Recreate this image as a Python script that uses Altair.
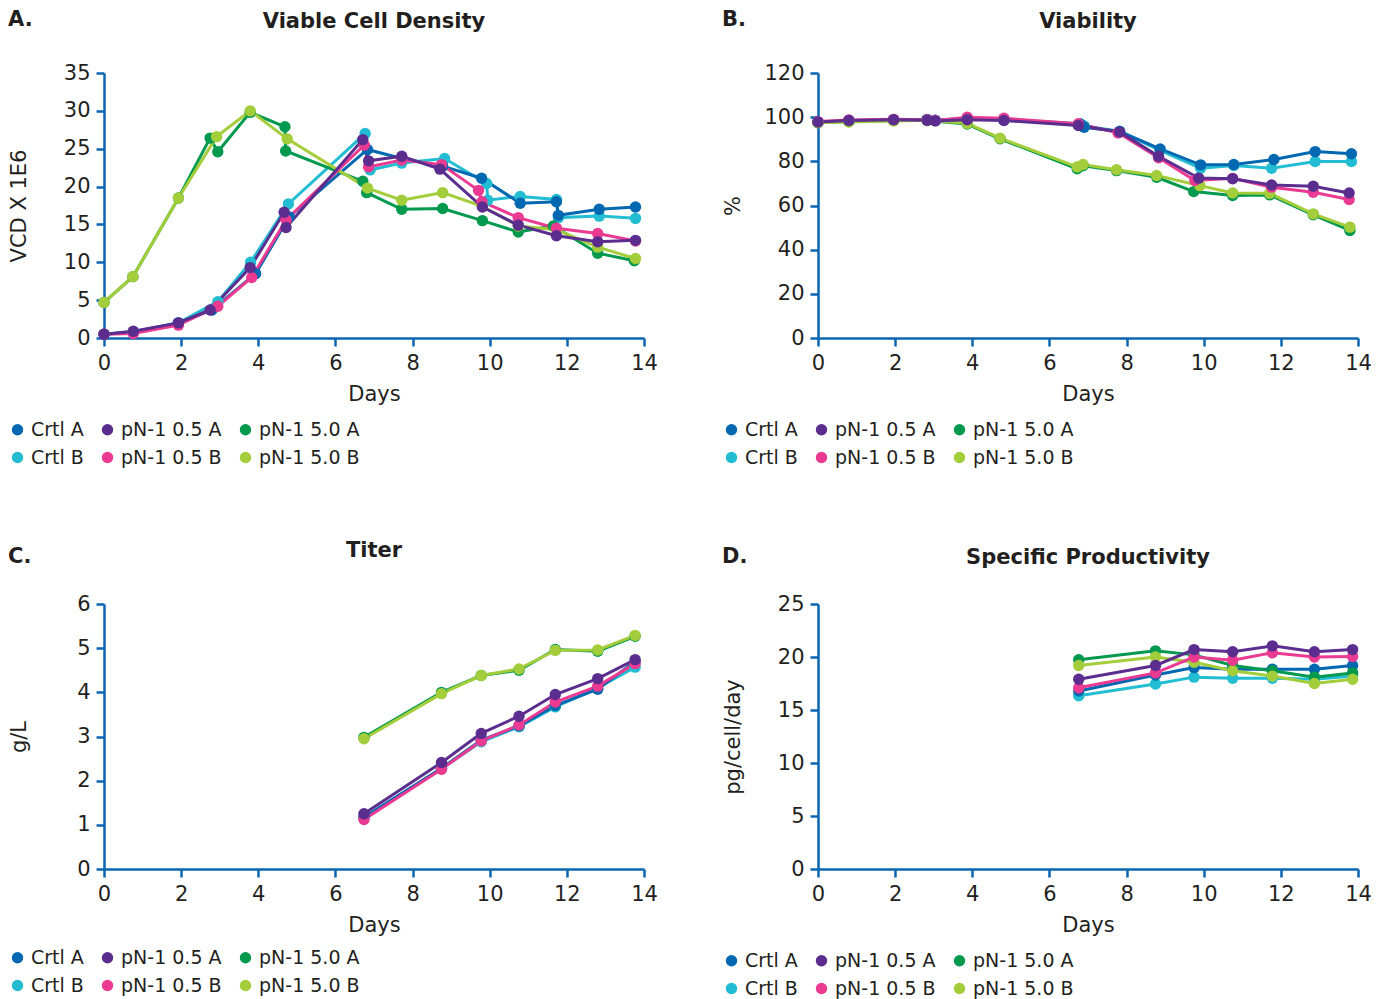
import altair as alt
import pandas as pd

FONT = "DejaVu Sans"
TXT = "#231f20"
AXIS_BLUE = "#0a66b0"

# legend order (filled column by column: 2 rows x 3 columns)
SERIES = ["Crtl A", "Crtl B", "pN-1 0.5 A", "pN-1 0.5 B", "pN-1 5.0 A", "pN-1 5.0 B"]
COLORS = ["#0067b1", "#22bdd2", "#5a2d8f", "#ea3a92", "#00994e", "#a4cd3b"]
DRAW_ORDER = ["Crtl B", "Crtl A", "pN-1 5.0 A", "pN-1 5.0 B", "pN-1 0.5 B", "pN-1 0.5 A"]

# ---------------- Panel A: Viable Cell Density ----------------
vcd_crtl_a_days = [0, 0.76, 1.93, 2.8, 3.93, 4.8, 6.83, 7.72, 8.78, 9.79, 10.79, 11.73, 11.78, 12.84, 13.78]
vcd_crtl_a = [0.5, 0.8, 2.0, 3.7, 8.5, 16.0, 24.9, 23.7, 22.7, 21.1, 17.8, 18.0, 16.2, 17.0, 17.3]
vcd_crtl_b_days = [0, 0.76, 1.93, 2.95, 3.8, 4.78, 6.77, 6.9, 7.72, 8.83, 9.92, 9.95, 10.79, 11.73, 11.78, 12.84, 13.78]
vcd_crtl_b = [0.5, 0.8, 2.0, 4.8, 10.0, 17.7, 27.0, 22.2, 23.1, 23.7, 20.4, 18.2, 18.7, 18.3, 15.9, 16.1, 15.8]
vcd_p05_a_days = [0, 0.76, 1.93, 2.75, 3.79, 4.67, 4.72, 6.71, 6.86, 7.72, 8.71, 9.81, 10.74, 11.73, 12.8, 13.78]
vcd_p05_a = [0.5, 0.9, 2.0, 3.7, 9.3, 16.6, 14.6, 26.2, 23.4, 24.0, 22.3, 17.3, 14.9, 13.5, 12.7, 12.9]
vcd_p05_b_days = [0, 0.76, 1.93, 2.95, 3.83, 4.72, 6.75, 6.86, 7.72, 8.75, 9.71, 9.8, 10.74, 11.73, 12.8, 13.78]
vcd_p05_b = [0.5, 0.6, 1.7, 4.2, 8.0, 15.6, 25.5, 22.6, 23.5, 22.9, 19.5, 18.0, 15.9, 14.5, 13.8, 12.8]
vcd_p50_a_days = [0, 0.75, 1.93, 2.75, 2.95, 3.79, 4.69, 4.71, 6.71, 6.81, 7.72, 8.78, 9.81, 10.74, 11.65, 12.8, 13.75]
vcd_p50_a = [4.7, 8.1, 18.5, 26.4, 24.6, 29.8, 27.9, 24.7, 20.7, 19.2, 17.0, 17.1, 15.5, 14.0, 14.8, 11.2, 10.2]
vcd_p50_b_days = [0, 0.75, 1.93, 2.92, 3.79, 4.75, 6.83, 7.72, 8.78, 9.81, 10.74, 11.73, 12.8, 13.78]
vcd_p50_b = [4.7, 8.1, 18.5, 26.6, 30.0, 26.3, 19.8, 18.2, 19.2, 17.4, 14.8, 14.3, 12.0, 10.5]

# ---------------- Panel B: Viability ----------------
via_crtl_a_days = [0, 0.8, 1.96, 2.83, 3.04, 3.87, 4.82, 6.8, 6.9, 7.82, 8.87, 9.92, 10.78, 11.82, 12.89, 13.83]
via_crtl_a = [97.5, 98.4, 98.8, 98.9, 98.5, 99.3, 98.9, 96.8, 95.4, 93.5, 85.6, 78.4, 78.6, 80.8, 84.4, 83.4]
via_crtl_b_days = [0, 0.8, 1.96, 2.83, 3.04, 3.87, 4.82, 6.8, 6.9, 7.82, 8.87, 9.92, 10.78, 11.76, 12.89, 13.83]
via_crtl_b = [97.7, 98.0, 98.6, 99.0, 98.6, 99.5, 99.0, 97.0, 96.0, 93.6, 85.0, 76.9, 78.1, 76.9, 79.9, 79.9]
via_p05_a_days = [0, 0.8, 1.96, 2.83, 3.04, 3.87, 4.82, 6.75, 7.82, 8.83, 9.87, 10.75, 11.76, 12.84, 13.77]
via_p05_a = [97.8, 98.5, 98.8, 98.6, 98.3, 98.8, 98.5, 96.2, 93.3, 82.3, 72.4, 72.1, 69.3, 68.7, 65.7]
via_p05_b_days = [0, 0.8, 1.96, 2.83, 3.04, 3.87, 4.82, 6.75, 7.78, 8.83, 9.77, 10.75, 11.76, 12.84, 13.77]
via_p05_b = [98.0, 98.7, 99.0, 98.8, 98.5, 100.0, 99.5, 97.0, 92.9, 81.6, 71.3, 72.3, 68.3, 66.0, 62.7]
via_p50_a_days = [0, 0.8, 1.96, 2.83, 3.87, 4.72, 6.72, 6.87, 7.74, 8.78, 9.74, 10.75, 11.71, 12.84, 13.79]
via_p50_a = [97.7, 98.0, 98.5, 98.5, 96.9, 90.2, 76.6, 78.0, 75.8, 72.8, 66.3, 64.5, 64.8, 55.8, 48.7]
via_p50_b_days = [0, 0.8, 1.96, 2.83, 3.87, 4.72, 6.72, 6.87, 7.74, 8.78, 9.9, 10.75, 11.71, 12.84, 13.79]
via_p50_b = [97.5, 97.8, 98.3, 98.6, 97.2, 90.5, 77.5, 78.6, 76.2, 73.6, 69.0, 65.7, 65.5, 56.2, 50.2]

# ---------------- Panel C: Titer ----------------
titer_days = [6.74, 8.75, 9.78, 10.76, 11.7, 12.8, 13.77]
titer_crtl_a = [1.17, 2.28, 2.92, 3.24, 3.70, 4.07, 4.70]
titer_crtl_b = [1.15, 2.27, 2.88, 3.22, 3.67, 4.10, 4.57]
titer_p05_a = [1.25, 2.41, 3.07, 3.46, 3.95, 4.31, 4.74]
titer_p05_b = [1.12, 2.26, 2.90, 3.26, 3.78, 4.14, 4.65]
titer_p50_a = [2.98, 4.00, 4.38, 4.50, 4.97, 4.93, 5.27]
titer_p50_b = [2.95, 3.97, 4.38, 4.53, 4.95, 4.96, 5.29]

# ---------------- Panel D: Specific Productivity ----------------
qp_days = [6.76, 8.75, 9.75, 10.75, 11.78, 12.87, 13.86]
qp_crtl_a = [16.8, 18.3, 19.0, 18.85, 18.85, 18.85, 19.2]
qp_crtl_b = [16.35, 17.45, 18.1, 18.0, 18.0, 17.9, 18.2]
qp_p05_a = [17.9, 19.2, 20.7, 20.5, 21.05, 20.5, 20.7]
qp_p05_b = [17.1, 18.5, 20.0, 19.7, 20.4, 20.0, 20.05]
qp_p50_a = [19.74, 20.58, 20.2, 19.2, 18.7, 18.1, 18.5]
qp_p50_b = [19.2, 20.0, 19.5, 18.7, 18.2, 17.5, 17.9]

COLOR_OF = dict(zip(SERIES, COLORS))


def frame(pairs):
    rows = []
    for name in DRAW_ORDER:
        days, vals = pairs[name]
        for d, v in zip(days, vals):
            rows.append({"series": name, "day": d, "value": v, "hex": COLOR_OF[name]})
    return pd.DataFrame(rows)


df_a = frame({
    "Crtl A": (vcd_crtl_a_days, vcd_crtl_a), "Crtl B": (vcd_crtl_b_days, vcd_crtl_b),
    "pN-1 0.5 A": (vcd_p05_a_days, vcd_p05_a), "pN-1 0.5 B": (vcd_p05_b_days, vcd_p05_b),
    "pN-1 5.0 A": (vcd_p50_a_days, vcd_p50_a), "pN-1 5.0 B": (vcd_p50_b_days, vcd_p50_b),
})
df_b = frame({
    "Crtl A": (via_crtl_a_days, via_crtl_a), "Crtl B": (via_crtl_b_days, via_crtl_b),
    "pN-1 0.5 A": (via_p05_a_days, via_p05_a), "pN-1 0.5 B": (via_p05_b_days, via_p05_b),
    "pN-1 5.0 A": (via_p50_a_days, via_p50_a), "pN-1 5.0 B": (via_p50_b_days, via_p50_b),
})
df_c = frame({
    "Crtl A": (titer_days, titer_crtl_a), "Crtl B": (titer_days, titer_crtl_b),
    "pN-1 0.5 A": (titer_days, titer_p05_a), "pN-1 0.5 B": (titer_days, titer_p05_b),
    "pN-1 5.0 A": (titer_days, titer_p50_a), "pN-1 5.0 B": (titer_days, titer_p50_b),
})
df_d = frame({
    "Crtl A": (qp_days, qp_crtl_a), "Crtl B": (qp_days, qp_crtl_b),
    "pN-1 0.5 A": (qp_days, qp_p05_a), "pN-1 0.5 B": (qp_days, qp_p05_b),
    "pN-1 5.0 A": (qp_days, qp_p50_a), "pN-1 5.0 B": (qp_days, qp_p50_b),
})

W, H = 540, 265


def panel(df, title, letter, ytitle, ymax, ystep, title_y, letter_y, legend_y):
    base = alt.Chart(df)
    x = alt.X("day:Q", scale=alt.Scale(domain=[0, 14], nice=False),
              axis=alt.Axis(values=list(range(0, 15, 2)), title="Days", labelFlush=False,
                            titleX=W / 2, titleY=56, titleBaseline="middle", titleAlign="center"))
    y = alt.Y("value:Q", scale=alt.Scale(domain=[0, ymax], nice=False),
              axis=alt.Axis(values=list(range(0, ymax + 1, ystep)), title=ytitle, labelFlush=False,
                            titleAngle=270, titleX=-85, titleY=H / 2,
                            titleBaseline="middle", titleAlign="center"))
    color_p = alt.Color("series:N", scale=alt.Scale(domain=SERIES, range=COLORS),
                        legend=alt.Legend(title=None, orient="none", legendX=-96, legendY=legend_y,
                                          columns=3, padding=0, symbolType="circle", symbolSize=130,
                                          symbolStrokeWidth=0, symbolOpacity=1,
                                          labelFont=FONT, labelFontSize=19, labelColor=TXT,
                                          labelOffset=4, columnPadding=14, rowPadding=8,
                                          gridAlign="each"))
    lines = base.mark_line(strokeWidth=3).encode(
        x=x, y=y, stroke=alt.Stroke("hex:N", scale=None), detail="series:N")
    pts = base.mark_point(filled=True, size=130, opacity=1).encode(x=x, y=y, color=color_p)
    lab = alt.Chart(pd.DataFrame({"t": [letter]})).mark_text(
        font=FONT, fontSize=21, fontWeight="bold", color=TXT, align="left", baseline="alphabetic"
    ).encode(text="t:N", x=alt.value(-96), y=alt.value(letter_y))
    ttl = alt.Chart(pd.DataFrame({"t": [title]})).mark_text(
        font=FONT, fontSize=21, fontWeight="bold", color=TXT, align="center", baseline="alphabetic"
    ).encode(text="t:N", x=alt.value(W / 2), y=alt.value(title_y))
    return alt.layer(lines, pts, lab, ttl).properties(width=W, height=H)


pa = panel(df_a, "Viable Cell Density", "A.", "VCD X 1E6", 35, 5, -45, -47, 347)
pb = panel(df_b, "Viability", "B.", "%", 120, 20, -45, -47, 347)
pc = panel(df_c, "Titer", "C.", "g/L", 6, 1, -47, -41, 344)
pd_ = panel(df_d, "Specific Productivity", "D.", "pg/cell/day", 25, 5, -40, -41, 347)

chart = alt.concat(
    pa, pb, pc, pd_, columns=2, spacing={"row": 266, "column": 174}, bounds="flush", align="all"
).resolve_scale(
    color="independent", x="independent", y="independent"
).resolve_legend(color="independent").properties(
    padding={"left": 0, "top": 1, "right": 0, "bottom": 0}
).configure_view(stroke=None).configure_axis(
    grid=False, domainColor=AXIS_BLUE, domainWidth=2.5, tickColor=AXIS_BLUE, tickWidth=2.5,
    tickSize=8, labelFont=FONT, labelFontSize=21, labelColor=TXT, labelPadding=6,
    titleFont=FONT, titleFontSize=21, titleFontWeight="normal", titleColor=TXT
)

chart.save("out.html", embed_options={"renderer": "svg", "actions": False})
